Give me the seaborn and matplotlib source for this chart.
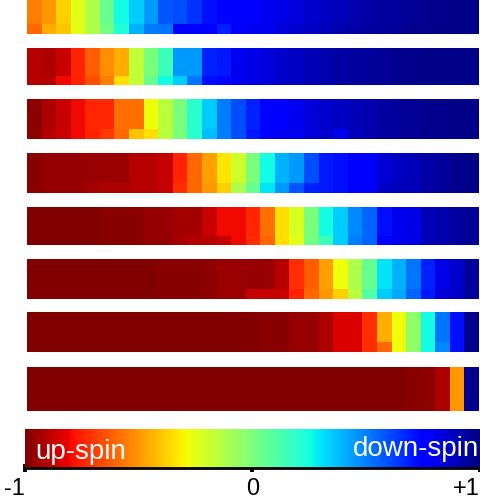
import numpy as np
import matplotlib
matplotlib.use('Agg')
import matplotlib.pyplot as plt
import seaborn as sns

# spin values per strip: upper part of strip and the thin lower row (-1 = up, +1 = down)
top1 = [-0.55,-0.5,-0.38,-0.25,-0.12,0.05,0.25,0.35,0.45,0.58,0.6,0.65,0.72,0.76,0.78,0.78,
        0.8,0.82,0.84,0.86,0.88,0.9,0.92,0.93,0.94,0.95,0.96,0.97,0.97,0.98,0.98]
bot1 = [-0.6,-0.45,-0.4,-0.25,-0.12,0.02,0.22,0.4,0.5,0.52,0.75,0.75,0.78,0.68,0.78,0.8,
        0.8,0.84,0.86,0.88,0.9,0.92,0.93,0.94,0.95,0.96,0.97,0.97,0.98,0.98,0.98]
top2 = [-0.9,-0.92,-0.87,-0.75,-0.62,-0.52,-0.45,-0.17,0.0,0.15,0.45,0.45,0.68,0.7,0.8,0.82,
        0.84,0.86,0.88,0.9,0.92,0.93,0.94,0.95,0.96,0.97,0.97,0.98,0.98,0.98,0.98]
bot2 = [-0.9,-0.9,-0.8,-0.75,-0.65,-0.55,-0.35,-0.17,0.05,0.25,0.35,0.52,0.72,0.74,0.8,0.82,
        0.84,0.86,0.88,0.9,0.92,0.93,0.94,0.95,0.96,0.97,0.97,0.98,0.98,0.98,0.98]
top3 = [-0.97,-0.92,-0.87,-0.8,-0.74,-0.74,-0.58,-0.58,-0.28,-0.15,0.0,0.2,0.35,0.5,0.6,0.68,
        0.76,0.78,0.8,0.84,0.86,0.88,0.9,0.92,0.94,0.95,0.96,0.97,0.97,0.98,0.98]
bot3 = [-0.97,-0.9,-0.87,-0.8,-0.75,-0.7,-0.6,-0.4,-0.35,-0.15,0.0,0.2,0.38,0.5,0.6,0.7,
        0.76,0.8,0.8,0.84,0.86,0.8,0.9,0.92,0.94,0.95,0.96,0.97,0.97,0.98,0.98]
top4 = [-0.98,-0.96,-0.96,-0.96,-0.95,-0.95,-0.95,-0.9,-0.9,-0.88,-0.75,-0.6,-0.48,-0.33,-0.2,0.0,
        0.25,0.4,0.45,0.6,0.7,0.72,0.75,0.78,0.85,0.88,0.9,0.93,0.95,0.97,0.98]
bot4 = [-0.98,-0.96,-0.96,-0.96,-0.93,-0.92,-0.92,-0.9,-0.9,-0.88,-0.72,-0.6,-0.5,-0.38,-0.12,0.05,
        0.3,0.45,0.58,0.68,0.7,0.72,0.75,0.78,0.88,0.9,0.9,0.93,0.95,0.97,0.98]
top5 = [-1,-1,-1,-1,-1,-0.98,-0.98,-0.98,-0.96,-0.96,-0.93,-0.93,-0.87,-0.8,-0.8,-0.74,
        -0.58,-0.35,-0.22,0.0,0.25,0.35,0.48,0.55,0.72,0.8,0.82,0.9,0.92,0.94,0.96]
bot5 = [-1,-1,-1,-1,-1,-0.98,-0.98,-0.98,-0.96,-0.96,-0.93,-0.9,-0.9,-0.88,-0.8,-0.72,
        -0.6,-0.35,-0.25,0.02,0.15,0.35,0.5,0.55,0.75,0.8,0.82,0.9,0.92,0.94,0.96]
top6 = [-1,-1,-1,-1,-1,-1,-1,-1,-1,-0.98,-0.98,-0.98,-0.97,-0.95,-0.95,-0.96,
        -0.95,-0.9,-0.72,-0.62,-0.48,-0.28,-0.12,0.05,0.3,0.4,0.52,0.68,0.82,0.86,0.95]
bot6 = [-1,-1,-1,-1,-1,-1,-1,-1,-1,-0.98,-0.98,-0.98,-0.97,-0.95,-0.95,-0.88,
        -0.88,-0.87,-0.75,-0.6,-0.5,-0.38,-0.15,0.1,0.35,0.42,0.55,0.7,0.84,0.87,0.95]
top7 = [-1,-1,-1,-1,-1,-1,-1,-1,-1,-1,-1,-1,-1,-1,-1,-0.99,
        -0.98,-0.98,-0.96,-0.96,-0.92,-0.84,-0.84,-0.72,-0.45,-0.28,-0.05,0.25,0.52,0.72,0.97]
bot7 = [-1,-1,-1,-1,-1,-1,-1,-1,-1,-1,-1,-1,-1,-1,-1,-0.99,
        -0.98,-0.98,-0.96,-0.96,-0.92,-0.84,-0.84,-0.72,-0.6,-0.28,-0.05,0.25,0.48,0.72,0.97]
top8 = [-1,-1,-1,-1,-1,-1,-1,-1,-1,-1,-1,-1,-1,-1,-1,-1,
        -1,-1,-1,-1,-1,-1,-1,-1,-1,-1,-0.98,-0.97,-0.92,-0.5,0.97]
bot8 = list(top8)

strips = [(top1, bot1), (top2, bot2), (top3, bot3), (top4, bot4),
          (top5, bot5), (top6, bot6), (top7, bot7), (top8, bot8)]
cbar_ticks = [-1, 0, 1]
cbar_labels = ['-1', '0', '+1']

sns.set_style('white')
plt.rcParams['font.family'] = ['Liberation Sans', 'DejaVu Sans']

W, H = 481, 504
fig = plt.figure(figsize=(W / 100, H / 100), dpi=100)

def px_axes(x0, y0, x1, y1):
    return fig.add_axes([x0 / W, 1 - y1 / H, (x1 - x0) / W, (y1 - y0) / H])

# strip pixel extents (top, bottom)
rows_px = [(-6, 34), (48, 85), (99, 139), (153, 193),
           (207, 245), (259, 299), (312, 352), (367, 411)]

cax = px_axes(25, 429, 480, 468)

for i, ((top, bot), (y0, y1)) in enumerate(zip(strips, rows_px)):
    ax = px_axes(27, y0, 479, y1)
    mat = np.vstack([top, top, top, bot])
    sns.heatmap(mat, ax=ax, cmap='jet_r', vmin=-1, vmax=1,
                cbar=(i == 0), cbar_ax=cax if i == 0 else None,
                cbar_kws={'orientation': 'horizontal'},
                xticklabels=False, yticklabels=False, linewidths=0)
    if i == 0:
        cb = ax.collections[0].colorbar

cb.outline.set_visible(False)
cb.set_ticks(cbar_ticks)
cb.set_ticklabels(cbar_labels)
cb.ax.tick_params(direction='inout', length=6, width=2.8, labelsize=17, pad=4,
                  color='black', labelcolor='black')
lbls = cb.ax.get_xticklabels()
lbls[0].set_ha('right')
lbls[-1].set_ha('right')
cb.ax.plot([0, 1], [0, 0], transform=cb.ax.transAxes, color='black',
           lw=2, clip_on=False)
cb.ax.text(0.022, 0.23, 'up-spin', transform=cb.ax.transAxes, color='white',
           fontsize=20, ha='left', va='baseline')
cb.ax.text(0.998, 0.3, 'down-spin', transform=cb.ax.transAxes, color='white',
           fontsize=20, ha='right', va='baseline')

fig.savefig('out.png', dpi=100)
